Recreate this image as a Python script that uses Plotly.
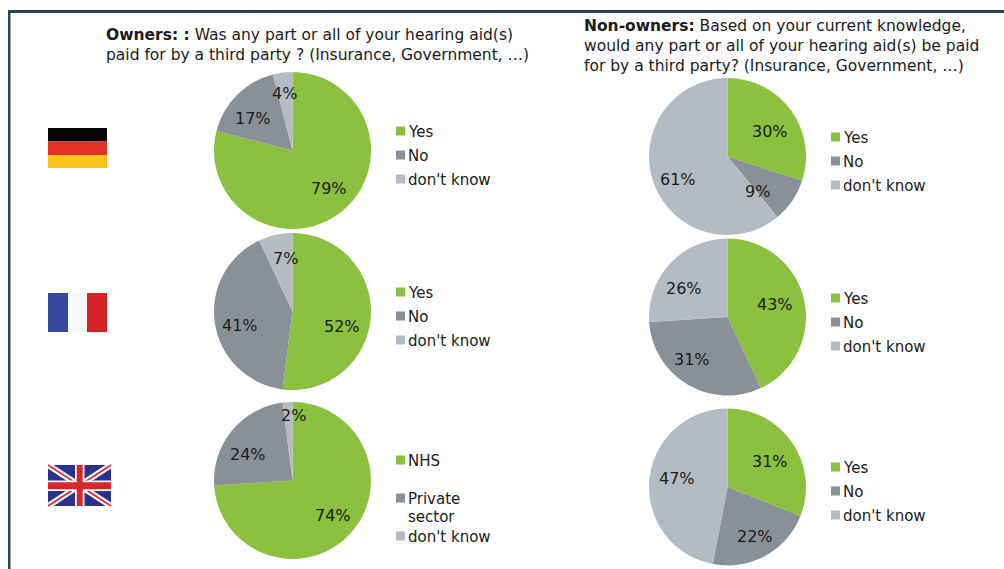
import plotly.graph_objects as go

W, H = 1004, 569
FONT = "DejaVu Sans"
TEXT = "#1a1a1a"
SLICE_COLOURS = ["#8bc13f", "#8a9097", "#b5bbc3"]

# Survey shares in percent: yes / no / don't know
owners_germany = [79, 17, 4]
owners_france = [52, 41, 7]
owners_uk = [74, 24, 2]
non_owners_germany = [30, 9, 61]
non_owners_france = [43, 31, 26]
non_owners_uk = [31, 22, 47]

answers = ["Yes", "No", "don't know"]
answers_uk_owners = ["NHS", "Private<br>sector", "don't know"]

title_owners = ("<b>Owners: :</b> Was any part or all of your hearing aid(s)<br>"
                "paid for by a third party ? (Insurance, Government, …)")
title_non_owners = ("<b>Non-owners:</b> Based on your current knowledge,<br>"
                    "would any part or all of your hearing aid(s) be paid<br>"
                    "for by a third party? (Insurance, Government, …)")

# Each panel: values, slice names, centre, radius, label centres, legend column and row positions
panels = [
    dict(values=owners_germany, names=answers, c=(292.5, 150.5), r=78.5,
         labels=[(329, 188), (253, 118), (284, 92)], lx=396, rows=[131, 155, 179]),
    dict(values=owners_france, names=answers, c=(292.5, 311.5), r=78.5,
         labels=[(342, 325), (240, 324), (285, 258)], lx=396, rows=[292, 316, 340]),
    dict(values=owners_uk, names=answers_uk_owners, c=(292.5, 480.5), r=78.5,
         labels=[(333, 514), (248, 453), (293, 414)], lx=396, rows=[460, 498, 536]),
    dict(values=non_owners_germany, names=answers, c=(727.5, 156.5), r=78.5,
         labels=[(770, 130), (757, 190), (678, 178)], lx=831, rows=[137, 161, 185]),
    dict(values=non_owners_france, names=answers, c=(727.5, 317), r=78.5,
         labels=[(775, 303), (692, 358), (684, 287)], lx=831, rows=[298, 322, 346]),
    dict(values=non_owners_uk, names=answers, c=(727.5, 487), r=78.5,
         labels=[(770, 460), (755, 535), (677, 477)], lx=831, rows=[467, 491, 515]),
]


def px(x):
    return x / W


def py(y):
    return 1 - y / H


def rect(x0, y0, x1, y1, colour):
    return dict(type="rect", xref="paper", yref="paper", x0=px(x0), x1=px(x1),
                y0=py(y0), y1=py(y1), fillcolor=colour, line_width=0, layer="above")


def stroke(x0, y0, x1, y1, colour, width):
    return dict(type="line", xref="paper", yref="paper", x0=px(x0), x1=px(x1),
                y0=py(y0), y1=py(y1), line=dict(color=colour, width=width), layer="above")


def label(x, y, text, size=15, anchor="center", align="center"):
    return dict(xref="paper", yref="paper", x=px(x), y=py(y), text=text, showarrow=False,
                xanchor=anchor, yanchor="middle", align=align,
                font=dict(family=FONT, size=size, color=TEXT))


fig = go.Figure()
shapes, annotations = [], []

for p in panels:
    cx, cy = p["c"]
    r = p["r"]
    fig.add_trace(go.Pie(
        values=p["values"], labels=p["names"], sort=False, direction="clockwise",
        rotation=0, textinfo="none", showlegend=False,
        marker=dict(colors=SLICE_COLOURS, line=dict(width=0)),
        domain=dict(x=[px(cx - r), px(cx + r)], y=[py(cy + r), py(cy - r)]),
    ))
    for value, (x, y) in zip(p["values"], p["labels"]):
        annotations.append(label(x, y + 1, f"{value}%", size=16))
    for name, colour, y in zip(p["names"], SLICE_COLOURS, p["rows"]):
        shapes.append(rect(p["lx"], y - 4.5, p["lx"] + 9, y + 4.5, colour))
        # Two-line legend entries are stacked so the swatch lines up with the first line
        for i, part in enumerate(name.split("<br>")):
            annotations.append(label(p["lx"] + 10, y + 1 + 18 * i, part, anchor="left", align="left"))

annotations.append(label(104, 45, title_owners, size=15.5, anchor="left", align="left"))
annotations.append(label(582, 46, title_non_owners, size=15.5, anchor="left", align="left"))

# Outer frame: top and left rules only
shapes.append(rect(8, 10, W, 13, "#2b4350"))
shapes.append(rect(8, 10, 10.5, H, "#2b4350"))

# Germany
shapes.append(rect(48, 128, 107, 141.5, "#050505"))
shapes.append(rect(48, 141.5, 107, 155, "#e03224"))
shapes.append(rect(48, 155, 107, 168, "#fdc41c"))

# France
shapes.append(rect(48, 293, 68, 332, "#35489b"))
shapes.append(rect(68, 293, 87, 332, "#f8f8f8"))
shapes.append(rect(87, 293, 107, 332, "#d22427"))

# United Kingdom
ux0, uy0, ux1, uy1 = 48, 465, 111, 506
shapes.append(rect(ux0, uy0, ux1, uy1, "#2b3088"))
shapes.append(stroke(ux0, uy0, ux1, uy1, "#ffffff", 6))
shapes.append(stroke(ux0, uy1, ux1, uy0, "#ffffff", 6))
shapes.append(stroke(ux0, uy0, ux1, uy1, "#d8262c", 1.5))
shapes.append(stroke(ux0, uy1, ux1, uy0, "#d8262c", 1.5))
shapes.append(rect(ux0 + 27, uy0, ux0 + 36.5, uy1, "#ffffff"))
shapes.append(rect(ux0, uy0 + 15.5, ux1, uy0 + 26, "#ffffff"))
shapes.append(rect(ux0 + 28.7, uy0, ux0 + 34.7, uy1, "#d8262c"))
shapes.append(rect(ux0, uy0 + 17.3, ux1, uy0 + 24.3, "#d8262c"))

fig.update_layout(width=W, height=H, margin=dict(l=0, r=0, t=0, b=0),
                  paper_bgcolor="#ffffff", shapes=shapes, annotations=annotations,
                  font=dict(family=FONT, color=TEXT))
fig.write_html("out.html", config=dict(displayModeBar=False))
